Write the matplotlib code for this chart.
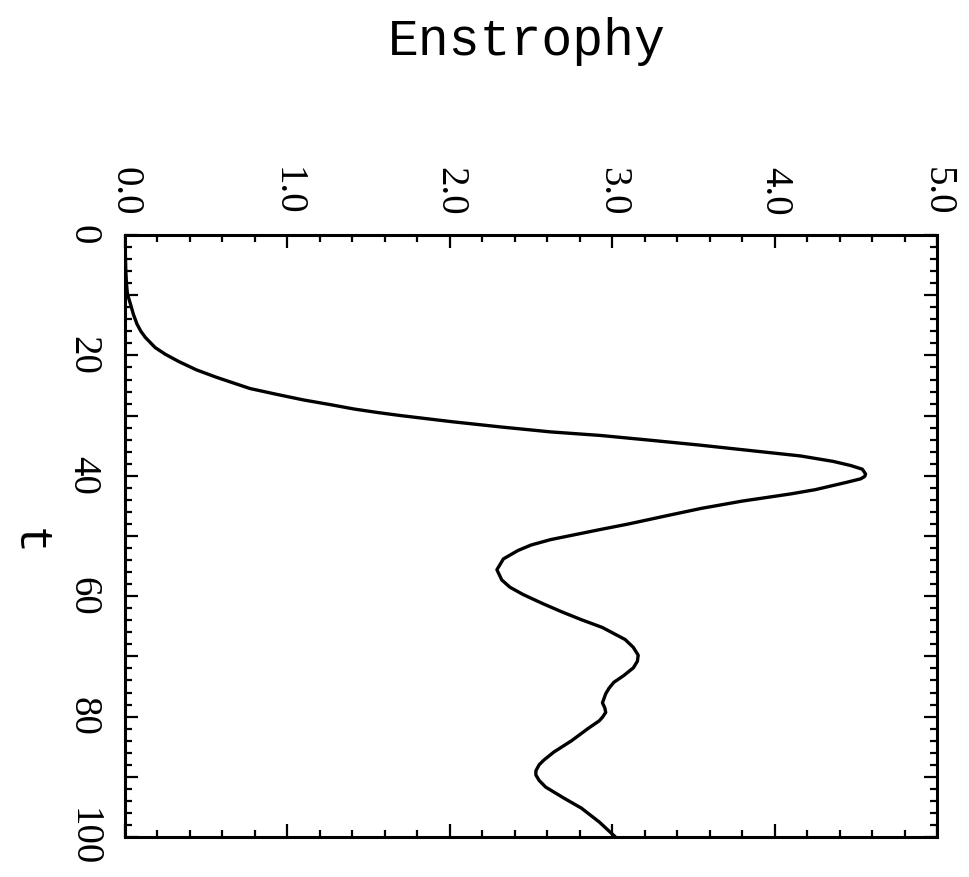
import numpy as np
import matplotlib
matplotlib.use("Agg")
import matplotlib.pyplot as plt
from matplotlib import font_manager
from matplotlib.ticker import MultipleLocator, FuncFormatter

# Enstrophy history: time t and enstrophy value
t_values = [0, 3, 6, 8, 9.8, 11.5, 13.2, 14.8, 16.0, 17.0, 18.7, 19.8, 21.0,
            22.4, 23.6, 24.6, 25.5, 26.5, 27.4, 28.2, 28.9, 29.5, 30.0, 31.0,
            31.9, 32.7, 33.3, 34.1, 34.9, 35.8, 36.7, 37.6, 38.3, 38.9, 39.7,
            40.1, 40.5, 41.1, 42.3, 43.0, 44.2, 45.4, 46.6, 48.0, 48.9, 50.6,
            51.5, 52.4, 53.8, 55.6, 57.3, 58.5, 59.7, 61.2, 62.6, 63.9, 65.2,
            66.2, 67.2, 68.5, 69.8, 70.8, 71.9, 73.2, 74.3, 75.3, 76.2, 77.7,
            78.6, 79.3, 80.1, 80.7, 82.0, 84.0, 85.9, 87.2, 88.0, 89.0, 89.7,
            90.6, 91.7, 93.5, 95.2, 97.5, 100]
enstrophy = [0.0, 0.002, 0.005, 0.009, 0.015, 0.034, 0.052, 0.074, 0.098,
             0.125, 0.186, 0.248, 0.33, 0.44, 0.56, 0.67, 0.77, 0.94, 1.10,
             1.27, 1.41, 1.56, 1.70, 2.01, 2.32, 2.62, 2.93, 3.24, 3.54, 3.85,
             4.16, 4.36, 4.47, 4.54, 4.56, 4.555, 4.53, 4.44, 4.25, 4.10, 3.80,
             3.55, 3.34, 3.10, 2.93, 2.62, 2.50, 2.42, 2.33, 2.29, 2.32, 2.37,
             2.45, 2.57, 2.69, 2.81, 2.94, 3.01, 3.08, 3.13, 3.16, 3.155, 3.13,
             3.07, 3.01, 2.98, 2.96, 2.94, 2.955, 2.96, 2.94, 2.92, 2.85, 2.75,
             2.64, 2.58, 2.55, 2.53, 2.53, 2.55, 2.59, 2.70, 2.81, 2.92, 3.02]

enstrophy_ticks = [0.0, 1.0, 2.0, 3.0, 4.0, 5.0]
t_ticks = [0, 20, 40, 60, 80, 100]

available = {f.name for f in font_manager.fontManager.ttflist}
if "Liberation Sans Narrow" in available:
    tick_font, tick_size = "Liberation Sans Narrow", 30
else:
    tick_font, tick_size = "Liberation Serif", 28
title_font = "Liberation Mono"

fig = plt.figure(figsize=(9.69, 8.77), dpi=100)
ax = fig.add_axes([0.129, 0.0456, 0.838, 0.6864])

ax.plot(enstrophy, t_values, color="black", lw=2.4,
        solid_joinstyle="round", solid_capstyle="round")

ax.set_xlim(0, 5)
ax.set_ylim(100, 0)

ax.set_xticks(enstrophy_ticks)
ax.xaxis.set_minor_locator(MultipleLocator(0.2))
ax.xaxis.set_major_formatter(FuncFormatter(lambda v, _: f"{v:.1f}"))

ax.yaxis.set_major_locator(MultipleLocator(10))
ax.yaxis.set_minor_locator(MultipleLocator(2))
ax.yaxis.set_major_formatter(
    FuncFormatter(lambda v, _: f"{v:.0f}" if round(v) in t_ticks else ""))

for s in ax.spines.values():
    s.set_linewidth(2.2)

ax.tick_params(axis="both", which="both", direction="in",
               top=True, bottom=True, left=True, right=True, width=1.6)
ax.tick_params(which="major", length=9.5)
ax.tick_params(which="minor", length=5)
ax.tick_params(axis="x", which="major", labeltop=True, labelbottom=False,
               labelrotation=-90, pad=14)
ax.tick_params(axis="y", which="major", labelrotation=-90, pad=17)

for lab in ax.get_xticklabels() + ax.get_yticklabels():
    lab.set_fontfamily(tick_font)
    lab.set_fontsize(tick_size)
for lab in ax.get_yticklabels():
    lab.set_verticalalignment("center")

ax.set_ylabel("t", family=title_font, fontsize=34, rotation=-90,
              va="center", ha="center")
ax.yaxis.set_label_coords(-0.12, 0.49)

fig.text(527 / 969, 1 - 55 / 877, "Enstrophy", family=title_font,
         fontsize=37, ha="center", va="baseline")

fig.savefig("out.png", dpi=100, facecolor="white")
